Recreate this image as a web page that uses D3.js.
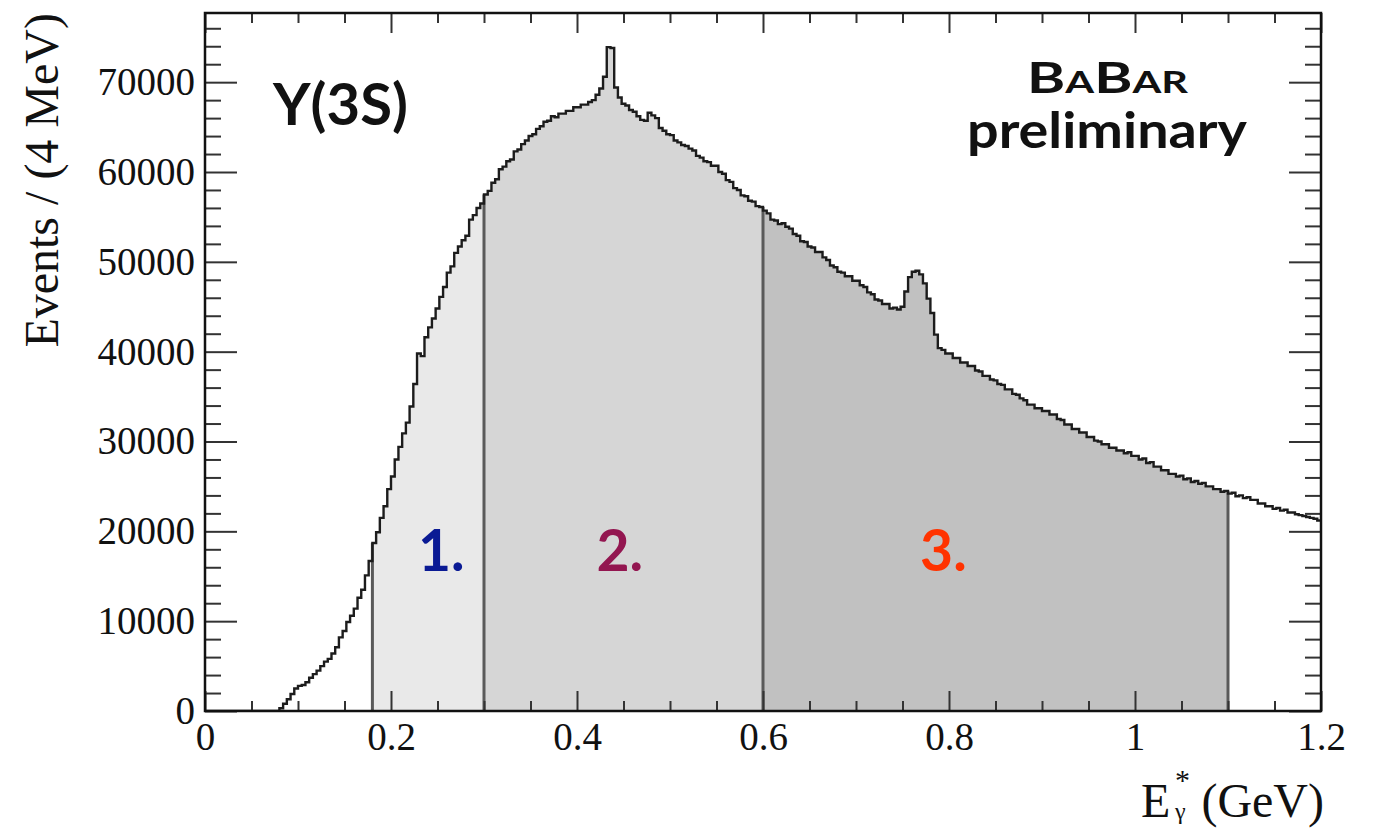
<!DOCTYPE html>
<html>
<head>
<meta charset="utf-8">
<script src="https://cdn.jsdelivr.net/npm/d3@7"></script>
<style>
  html, body { margin: 0; padding: 0; background: #ffffff; }
  svg { display: block; }
</style>
</head>
<body>
<svg id="chart" width="1373" height="828"></svg>
<script>
// Photon energy spectrum, 4 MeV bins from 0 to 1.2 GeV (events per bin)
const binWidth = 0.004;
const binCounts = [
  0, 0, 0, 0, 0, 0, 0, 0, 0, 0,
  0, 0, 0, 0, 0, 0, 0, 0, 0, 0,
  300, 800, 1300, 1900, 2500, 2800, 2900, 3200, 3700, 4100,
  4500, 5000, 5500, 5800, 6400, 7100, 8200, 8900, 9900, 10600,
  11400, 12600, 13500, 15100, 16700, 18700, 19900, 21500, 22800, 24700,
  26100, 28000, 29400, 30900, 32100, 33900, 36400, 39800, 39500, 41600,
  42700, 43700, 44800, 46100, 47200, 48800, 49500, 51000, 51700, 52400,
  52900, 54700, 55200, 56000, 56500, 57500, 57900, 58800, 59200, 60300,
  60600, 61200, 61400, 62300, 62500, 63100, 63500, 64000, 64200, 64800,
  65100, 65600, 65700, 66200, 66100, 66500, 66500, 66800, 66800, 67200,
  67200, 67500, 67500, 67800, 68000, 68600, 69300, 70600, 73900, 73800,
  69400, 68300, 67600, 67400, 66900, 66700, 66200, 65800, 65700, 66600,
  66300, 66000, 64900, 64600, 64200, 64100, 63500, 63300, 63000, 62900,
  62600, 62400, 61800, 61600, 61200, 61100, 60700, 60700, 60000, 59800,
  59100, 58900, 58200, 58000, 57400, 57300, 56800, 56700, 56200, 56100,
  55700, 55400, 54700, 54600, 54200, 54300, 53900, 53700, 53100, 52900,
  52300, 52200, 51700, 51600, 51100, 51100, 50500, 50200, 49600, 49400,
  48900, 48800, 48400, 48400, 47900, 47900, 47400, 47200, 46600, 46400,
  45800, 45700, 45300, 45300, 44800, 44900, 44700, 45000, 46700, 48300,
  48900, 49000, 48600, 47600, 45900, 44300, 41900, 40400, 40200, 39800,
  39800, 39300, 39300, 38800, 38800, 38400, 38400, 37900, 37800, 37300,
  37300, 36900, 36800, 36400, 36300, 35800, 35800, 35300, 35200, 34800,
  34600, 34100, 34100, 33700, 33700, 33400, 33400, 33000, 33000, 32500,
  32400, 31900, 31900, 31400, 31400, 31000, 31000, 30500, 30500, 30100,
  30000, 29700, 29700, 29300, 29300, 29000, 29000, 28700, 28800, 28400,
  28400, 28000, 28100, 27600, 27700, 27200, 27200, 26800, 26800, 26400,
  26400, 26100, 26200, 25800, 25900, 25500, 25600, 25300, 25400, 25000,
  25000, 24700, 24700, 24400, 24500, 24200, 24300, 23900, 24000, 23700,
  23800, 23500, 23500, 23100, 23100, 22800, 22800, 22500, 22600, 22300,
  22400, 22100, 22100, 21900, 21800, 21700, 21600, 21500, 21400, 21200
];

// Energy windows 1., 2., 3. (GeV edges)
const windowEdges = [0.18, 0.30, 0.60, 1.10];
const windowLabels = ["1.", "2.", "3."];
const windowLabelX = [0.254, 0.446, 0.794];

// Axis ticks
const xMajorTicks = [0, 0.2, 0.4, 0.6, 0.8, 1.0, 1.2];
const xTickLabels = ["0", "0.2", "0.4", "0.6", "0.8", "1", "1.2"];
const yMajorTicks = [0, 10000, 20000, 30000, 40000, 50000, 60000, 70000];
const yTickLabels = ["0", "10000", "20000", "30000", "40000", "50000", "60000", "70000"];

// ---- styles ----
const windowFills = ["#e9e9e9", "#d6d6d6", "#c1c1c1"];
const windowLabelColors = ["#0a1a94", "#931650", "#ff3300"];
const serif = "'Liberation Serif', 'Times New Roman', serif";
const sans = "Lato, 'Open Sans', sans-serif";

const W = 1373, H = 828;
const plot = { left: 205, right: 1321, top: 13, bottom: 711 };

const svg = d3.select("#chart");
svg.append("rect").attr("width", W).attr("height", H).attr("fill", "#fff");

const x = d3.scaleLinear().domain([0, 1.2]).range([plot.left, plot.right]);
const y = d3.scaleLinear().domain([0, 77700]).range([plot.bottom, plot.top]);

const bins = binCounts.map((v, i) => ({ e: i * binWidth, v }));
const edgePoints = bins.concat([{ e: bins.length * binWidth, v: binCounts[binCounts.length - 1] }]);

svg.append("clipPath").attr("id", "plotClip")
  .append("rect")
  .attr("x", plot.left).attr("y", plot.top)
  .attr("width", plot.right - plot.left).attr("height", plot.bottom - plot.top);

const g = svg.append("g").attr("clip-path", "url(#plotClip)");

// Shaded energy windows
const area = d3.area()
  .curve(d3.curveStepAfter)
  .x(d => x(d.e))
  .y0(y(0))
  .y1(d => y(d.v));

for (let k = 0; k < 3; k++) {
  const i0 = Math.round(windowEdges[k] / binWidth);
  const i1 = Math.round(windowEdges[k + 1] / binWidth);
  const pts = bins.slice(i0, i1).concat([{ e: i1 * binWidth, v: binCounts[i1 - 1] }]);
  g.append("path").attr("d", area(pts)).attr("fill", windowFills[k]).attr("stroke", "none");
}

// Window boundary lines
windowEdges.forEach(edge => {
  const i = Math.round(edge / binWidth);
  const top = Math.max(binCounts[i - 1], binCounts[i]);
  g.append("line")
    .attr("x1", x(edge)).attr("x2", x(edge))
    .attr("y1", y(0)).attr("y2", y(top))
    .attr("stroke", "#5a5a5a").attr("stroke-width", 3);
});

// Histogram outline
const line = d3.line()
  .curve(d3.curveStepAfter)
  .x(d => x(d.e))
  .y(d => y(d.v));
g.append("path")
  .attr("d", line(edgePoints))
  .attr("fill", "none")
  .attr("stroke", "#1c1c1c")
  .attr("stroke-width", 2.4)
  .attr("stroke-linejoin", "miter");

// ---- axes (ticks inside the frame, on all four sides) ----
function styleAxis(sel) {
  sel.select(".domain").remove();
  sel.selectAll(".tick line").attr("stroke", "#333").attr("stroke-width", 2);
  sel.selectAll(".tick text")
    .attr("fill", "#111")
    .style("font-family", serif)
    .style("font-size", "39px");
}

const yMinor = d3.range(0, 77700, 2000).filter(v => v % 10000 !== 0);
const xMinor = d3.range(0, 1.2001, 0.05).filter(v => Math.abs(v / 0.2 - Math.round(v / 0.2)) > 1e-6);

// left
svg.append("g").attr("transform", `translate(${plot.left},0)`)
  .call(d3.axisLeft(y).tickValues(yMinor).tickSize(-16).tickFormat(""))
  .call(styleAxis);
svg.append("g").attr("transform", `translate(${plot.left},0)`)
  .call(d3.axisLeft(y).tickValues(yMajorTicks).tickSize(-32).tickPadding(10)
    .tickFormat((d, i) => yTickLabels[i]))
  .call(styleAxis);
// right
svg.append("g").attr("transform", `translate(${plot.right},0)`)
  .call(d3.axisRight(y).tickValues(yMinor).tickSize(-16).tickFormat(""))
  .call(styleAxis);
svg.append("g").attr("transform", `translate(${plot.right},0)`)
  .call(d3.axisRight(y).tickValues(yMajorTicks).tickSize(-32).tickFormat(""))
  .call(styleAxis);
// bottom
svg.append("g").attr("transform", `translate(0,${plot.bottom})`)
  .call(d3.axisBottom(x).tickValues(xMinor).tickSize(-10).tickFormat(""))
  .call(styleAxis);
svg.append("g").attr("transform", `translate(0,${plot.bottom})`)
  .call(d3.axisBottom(x).tickValues(xMajorTicks).tickSize(-20).tickPadding(11)
    .tickFormat((d, i) => xTickLabels[i]))
  .call(styleAxis);
// top
svg.append("g").attr("transform", `translate(0,${plot.top})`)
  .call(d3.axisTop(x).tickValues(xMinor).tickSize(-10).tickFormat(""))
  .call(styleAxis);
svg.append("g").attr("transform", `translate(0,${plot.top})`)
  .call(d3.axisTop(x).tickValues(xMajorTicks).tickSize(-20).tickFormat(""))
  .call(styleAxis);

// Frame
svg.append("rect")
  .attr("x", plot.left).attr("y", plot.top)
  .attr("width", plot.right - plot.left).attr("height", plot.bottom - plot.top)
  .attr("fill", "none").attr("stroke", "#111").attr("stroke-width", 2.5);

// Axis titles
svg.append("text")
  .attr("transform", "rotate(-90)")
  .attr("x", -plot.top).attr("y", 58)
  .attr("text-anchor", "end")
  .style("font-family", serif).style("font-size", "48px").attr("fill", "#111")
  .text("Events / (4 MeV)");

svg.append("text").attr("x", 1141).attr("y", 817)
  .style("font-family", serif).style("font-size", "48px").attr("fill", "#111").text("E");
svg.append("text").attr("x", 1175).attr("y", 819)
  .style("font-family", serif).style("font-size", "24px").attr("fill", "#111").text("γ");
svg.append("text").attr("x", 1175).attr("y", 790)
  .style("font-family", serif).style("font-size", "30px").attr("fill", "#111").text("*");
svg.append("text").attr("x", 1324).attr("y", 817).attr("text-anchor", "end")
  .style("font-family", serif).style("font-size", "48px").attr("fill", "#111").text("(GeV)");

// Annotations
svg.append("text").attr("x", 273).attr("y", 125)
  .style("font-family", sans).style("font-weight", 700).style("font-size", "58px")
  .attr("fill", "#111").text("Y(3S)");

const babar = svg.append("text").attr("x", 1027).attr("y", 93)
  .attr("textLength", 161).attr("lengthAdjust", "spacingAndGlyphs")
  .style("font-family", sans).style("font-weight", 700).attr("fill", "#111");
[["B", 42], ["A", 30], ["B", 42], ["AR", 30]].forEach(([t, s]) => {
  babar.append("tspan").style("font-size", s + "px").text(t);
});
svg.append("text").attr("x", 967).attr("y", 148)
  .attr("textLength", 280).attr("lengthAdjust", "spacingAndGlyphs")
  .style("font-family", sans).style("font-weight", 700).style("font-size", "50px")
  .attr("fill", "#111").text("preliminary");

windowLabels.forEach((t, k) => {
  svg.append("text")
    .attr("x", x(windowLabelX[k])).attr("y", y(15600))
    .attr("text-anchor", "middle")
    .style("font-family", sans).style("font-weight", 700).style("font-size", "57px")
    .attr("fill", windowLabelColors[k]).text(t);
});
</script>
</body>
</html>
